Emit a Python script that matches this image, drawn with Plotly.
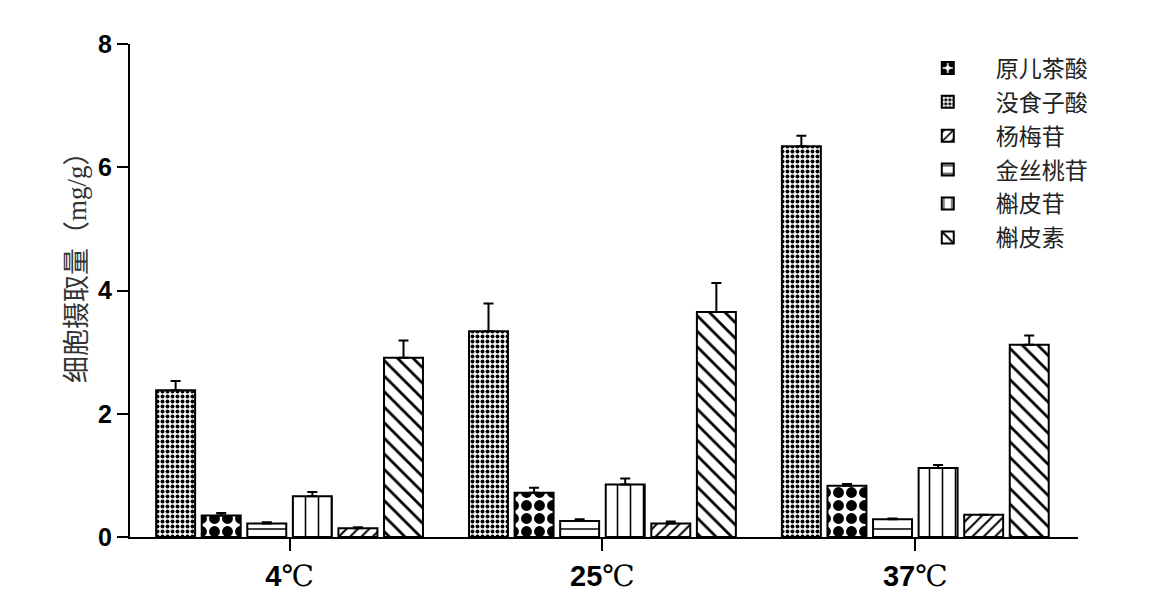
"""Grouped bar chart — cell uptake of six compounds at three temperatures."""
import plotly.graph_objects as go

temps = ["4℃", "25℃", "37℃"]
temp_numbers = ["4", "25", "37"]

# bar order inside each group (left to right)
compounds = ["没食子酸", "原儿茶酸", "金丝桃苷", "槲皮苷", "杨梅苷", "槲皮素"]
legend_rank = [2, 1, 4, 5, 3, 6]

means = {
    "没食子酸": [2.38, 3.34, 6.34],
    "原儿茶酸": [0.35, 0.72, 0.83],
    "金丝桃苷": [0.22, 0.26, 0.29],
    "槲皮苷":   [0.66, 0.85, 1.12],
    "杨梅苷":   [0.14, 0.22, 0.36],
    "槲皮素":   [2.91, 3.65, 3.12],
}
errors = {
    "没食子酸": [0.15, 0.45, 0.17],
    "原儿茶酸": [0.04, 0.08, 0.03],
    "金丝桃苷": [0.02, 0.03, 0.01],
    "槲皮苷":   [0.07, 0.10, 0.05],
    "杨梅苷":   [0.02, 0.03, 0.00],
    "槲皮素":   [0.28, 0.47, 0.15],
}

_PATTERNS = {
    "没食子酸": dict(shape=".", size=5, solidity=0.5),
    "原儿茶酸": dict(shape=".", size=13, solidity=0.55),
    "金丝桃苷": dict(shape="-", size=10, solidity=0.15),
    "槲皮苷":   dict(shape="|", size=13, solidity=0.12),
    "杨梅苷":   dict(shape="/", size=8, solidity=0.25),
    "槲皮素":   dict(shape="\\", size=11, solidity=0.25),
}

_NUM_FONT = "Liberation Sans, Arial, sans-serif"
_SERIF = "Liberation Serif, DejaVu Serif, serif"
_CJK_FONT = "Noto Sans CJK SC, sans-serif"

tick_text = [f"<b>{n}</b><span style='font-family:{_SERIF};font-weight:normal'>℃</span>"
             for n in temp_numbers]

fig = go.Figure()
for name, rank in zip(compounds, legend_rank):
    pat = _PATTERNS[name]
    fig.add_trace(go.Bar(
        x=temps, y=means[name], name=name,
        legendrank=rank, legendgroup=name,
        marker=dict(
            color="#ffffff",
            line=dict(color="#000000", width=2),
            pattern=dict(fgcolor="#000000", bgcolor="#ffffff",
                         fgopacity=1, fillmode="overlay", **pat),
        ),
        error_y=dict(type="data", symmetric=False, array=errors[name],
                     arrayminus=[0] * len(temps),
                     color="#000000", thickness=2, width=5),
    ))

fig.add_annotation(
    text=f"细胞摄取量（<span style='font-family:{_SERIF}'>mg/g</span>）",
    xref="paper", yref="paper", x=-0.058, y=0.56,
    xanchor="center", yanchor="middle", textangle=-90, showarrow=False,
    font=dict(family=_CJK_FONT, size=27, color="#333333"),
)

fig.update_layout(
    width=1149, height=611,
    margin=dict(l=122, r=79, t=36, b=82),
    paper_bgcolor="#ffffff", plot_bgcolor="#ffffff",
    barmode="group", bargap=0.126, bargroupgap=0.145,
    showlegend=True,
    xaxis=dict(
        type="category", range=[-0.51, 2.52],
        tickvals=temps, ticktext=tick_text,
        tickfont=dict(family=_NUM_FONT, size=29, color="#000000"),
        showline=True, linecolor="#000000", linewidth=2,
        ticks="outside", ticklen=12, tickwidth=2, tickcolor="#000000",
        showgrid=False, zeroline=False,
    ),
    yaxis=dict(
        range=[0, 8], tickvals=[0, 2, 4, 6, 8],
        tickfont=dict(family=_NUM_FONT, size=25, color="#000000", weight="bold"),
        showline=True, linecolor="#000000", linewidth=2,
        ticks="outside", ticklen=11, tickwidth=2, tickcolor="#000000",
        showgrid=False, zeroline=False,
    ),
    legend=dict(
        x=0.812, y=0.995, xanchor="left", yanchor="top",
        font=dict(family=_CJK_FONT, size=23, color="#222222"),
        bgcolor="rgba(0,0,0,0)", itemwidth=86, tracegroupgap=1,
    ),
)

fig.write_html("out.html")
